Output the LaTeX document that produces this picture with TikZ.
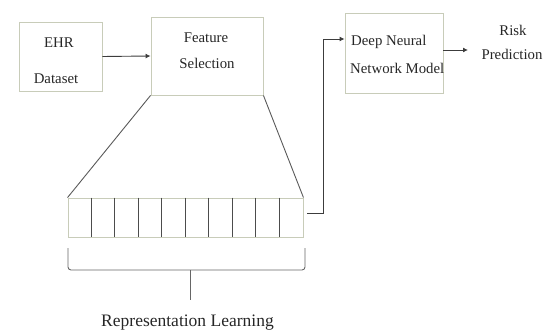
\documentclass[tikz,border=0pt]{standalone}
\usepackage{fontspec}
\setmainfont{Liberation Serif}
\usetikzlibrary{arrows.meta,calc}
\definecolor{boxline}{RGB}{200,204,185}
\definecolor{conn}{RGB}{60,60,60}
\tikzset{
  box/.style={draw=boxline, line width=0.9pt, rectangle, inner sep=0pt},
  lbl/.style={inner sep=0pt, font=\fontsize{14.8}{16}\selectfont, text=black!85},
  conline/.style={draw=conn, line width=0.9pt},
  arr/.style={conline, -{Latex[length=5pt,width=5pt]}},
  cellline/.style={draw=black!70, line width=0.8pt}
}
\begin{document}
\begin{tikzpicture}[x=1pt,y=-1pt]
\useasboundingbox (0,0) rectangle (545,334);
% boxes
\node[box, minimum width=83pt, minimum height=69pt] (ehr) at (60.5,56.5) {};
\node[box, minimum width=112pt, minimum height=78pt] (fs) at (207,56) {};
\node[box, minimum width=98pt, minimum height=80pt] (dnn) at (394,53) {};
% texts
\node[lbl] (t1) at (59,43) {EHR};
\node[lbl] (t2) at (56,79) {Dataset};
\node[lbl] (t3) at (206,38) {Feature};
\node[lbl] (t4) at (207,63) {Selection};
\node[lbl, anchor=west] (t5) at (351,42) {Deep Neural};
\node[lbl, anchor=west] (t6) at (350,68) {Network Model};
\node[lbl] (t7) at (513,30) {Risk};
\node[lbl] (t8) at (512,54) {Prediction};
\node[lbl, font=\fontsize{17.5}{19}\selectfont] (t9) at (187.5,323) {Representation Learning};
% representation array
\node[box, minimum width=235pt, minimum height=39pt] (cells) at (185.5,217.5) {};
\foreach \i in {1,...,9}{
  \draw[cellline] ($(cells.north west)+(\i*23.5,0)$) -- ($(cells.south west)+(\i*23.5,0)$);
}
% trapezoid lines
\draw[conline, draw=black!65] (fs.south west) -- (cells.north west);
\draw[conline, draw=black!65] (fs.south east) -- (cells.north east);
% arrows
\draw[arr] (ehr.east) -- (fs.west);
\draw[arr] (dnn.east |- 0,50) -- (468,50);
\coordinate (j) at (323,213);
\draw[arr] ($(cells.east |- j)+(4,0)$) -- (j) |- (dnn.west |- 0,39);
% brace
\coordinate (bl) at (68,248);
\coordinate (br) at (305,248);
\coordinate (bs) at (190,300);
\draw[conline, draw=black!60, rounded corners=3pt] (bl) -- (68,270) -- (305,270) -- (br);
\draw[conline, draw=black!60] (bs |- 0,270) -- (bs);
\end{tikzpicture}
\end{document}
